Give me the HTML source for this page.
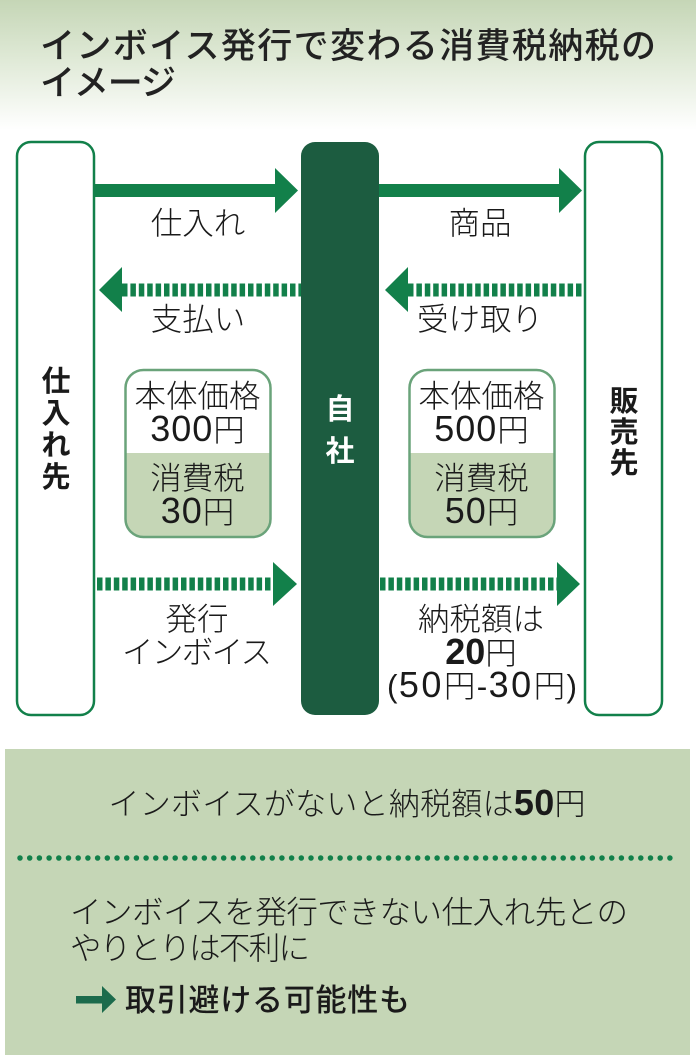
<!DOCTYPE html>
<html><head><meta charset="utf-8">
<style>
html,body{margin:0;padding:0;background:#fff}
svg{display:block}
text{font-family:"Liberation Sans","Noto Sans CJK JP",sans-serif;fill:#1a1a1a}
.t{font-size:35px;font-weight:500;fill:#222}
.l{font-size:31.500px;font-weight:300;text-anchor:middle}
.b{font-weight:700}
.d{font-size:36px;letter-spacing:1px}
.v{font-size:29px;font-weight:700;text-anchor:middle}
</style></head><body>
<svg width="696" height="1055" viewBox="0 0 696 1055" xmlns="http://www.w3.org/2000/svg">
<defs>
<linearGradient id="g" x1="0" y1="0" x2="0" y2="1"><stop offset="0" stop-color="#c5d6b6"/><stop offset="0.45" stop-color="#dfe9d6"/><stop offset="1" stop-color="#ffffff"/></linearGradient>
<clipPath id="c1"><rect x="125.500" y="370" width="145" height="167" rx="18"/></clipPath>
</defs>
<rect x="0" y="0" width="696" height="130" fill="url(#g)"/>
<text class="t" x="40" y="58" textLength="616">インボイス発行で変わる消費税納税の</text>
<text class="t" x="40" y="95" textLength="136">イメージ</text>

<rect x="17" y="142" width="77" height="573" rx="14" fill="#fff" stroke="#12804a" stroke-width="2.500"/>
<rect x="585" y="142" width="77" height="573" rx="14" fill="#fff" stroke="#12804a" stroke-width="2.500"/>
<rect x="301" y="142" width="78" height="573" rx="14" fill="#1c5c40"/>

<g fill="#12804a">
<rect x="94" y="184" width="182" height="13"/><polygon points="275,168 298,190.500 275,213"/>
<rect x="379" y="184" width="182" height="13"/><polygon points="559,168 582,190.500 559,213"/>
<polygon points="122,267 99,290 122,312"/>
<polygon points="408,267 385,290 408,312"/>
<polygon points="273,562 297,584 273,606"/>
<polygon points="557,562 580,584 557,606"/>
</g>
<g stroke="#12804a" stroke-width="13" stroke-dasharray="5.500 2.900" fill="none">
<line x1="122" y1="290" x2="301" y2="290"/>
<line x1="408" y1="290" x2="582" y2="290"/>
<line x1="97" y1="584" x2="273" y2="584"/>
<line x1="380" y1="584" x2="557" y2="584"/>
</g>

<text class="l" x="198" y="234">仕入れ</text>
<text class="l" x="480" y="234">商品</text>
<text class="l" x="198" y="330">支払い</text>
<text class="l" x="480" y="330">受け取り</text>

<g clip-path="url(#c1)"><rect x="125" y="453" width="146" height="85" fill="#c5d6b6"/></g>
<rect x="125.500" y="370" width="145" height="167" rx="18" fill="none" stroke="#6aa37a" stroke-width="2.500"/>
<text class="l" x="197.500" y="407">本体価格</text>
<text class="l" x="197.500" y="441"><tspan class="d">300</tspan>円</text>
<text class="l" x="197.500" y="489">消費税</text>
<text class="l" x="197.500" y="523"><tspan class="d">30</tspan>円</text>

<g transform="translate(284,0)">
<g clip-path="url(#c1)"><rect x="125" y="453" width="146" height="85" fill="#c5d6b6"/></g>
<rect x="125.500" y="370" width="145" height="167" rx="18" fill="none" stroke="#6aa37a" stroke-width="2.500"/>
<text class="l" x="197.500" y="407">本体価格</text>
<text class="l" x="197.500" y="441"><tspan class="d">500</tspan>円</text>
<text class="l" x="197.500" y="489">消費税</text>
<text class="l" x="197.500" y="523"><tspan class="d">50</tspan>円</text>
</g>

<text class="v" x="56" y="391">仕</text>
<text class="v" x="56" y="423">入</text>
<text class="v" x="56" y="455">れ</text>
<text class="v" x="56" y="487">先</text>
<text class="v" x="624" y="411">販</text>
<text class="v" x="624" y="442">売</text>
<text class="v" x="624" y="473">先</text>
<text class="v" x="340" y="419" style="fill:#fff">自</text>
<text class="v" x="340" y="461" style="fill:#fff">社</text>

<text class="l" x="197" y="630">発行</text>
<text class="l" x="197" y="663" textLength="150">インボイス</text>
<text class="l" x="481" y="630">納税額は</text>
<text class="l" x="481" y="664"><tspan class="b" style="font-size:36px">20</tspan>円</text>
<text class="l" x="482" y="697" textLength="190">(<tspan class="d">50</tspan>円-<tspan class="d">30</tspan>円)</text>

<rect x="5" y="749" width="685" height="306" fill="#c5d6b6"/>
<text class="l" x="347" y="815" style="font-size:31px" textLength="477"><tspan>インボイスがないと納税額は</tspan><tspan class="b" style="font-size:36px">50</tspan><tspan>円</tspan></text>
<line x1="20" y1="858" x2="676" y2="858" stroke="#12804a" stroke-width="5.500" stroke-linecap="round" stroke-dasharray="0 9.700"/>
<text class="l" style="text-anchor:start" x="70" y="923" textLength="558">インボイスを発行できない仕入れ先との</text>
<text class="l" style="text-anchor:start" x="70" y="959" textLength="240">やりとりは不利に</text>
<g fill="#1c6b4c"><rect x="76" y="996" width="27" height="7.500"/><polygon points="102,986 116,999.500 102,1013"/></g>
<text x="125" y="1011" font-size="31" font-weight="500" textLength="285">取引避ける可能性も</text>
</svg>
</body></html>
